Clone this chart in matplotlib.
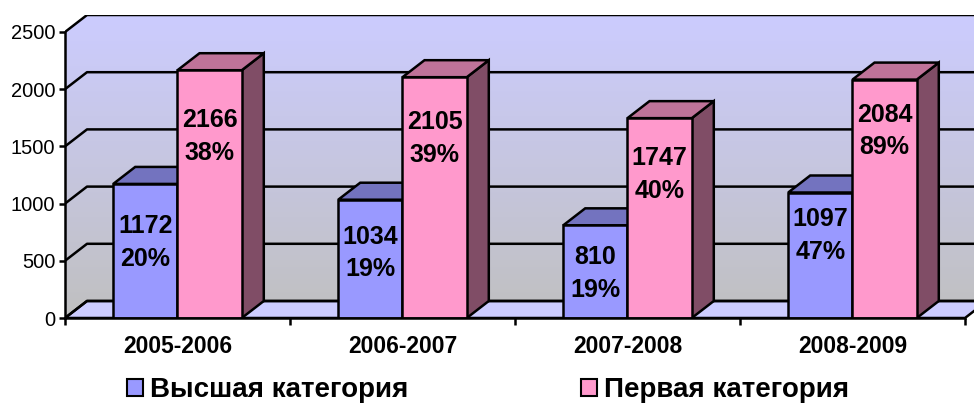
import numpy as np
import matplotlib.pyplot as plt
from matplotlib.colors import LinearSegmentedColormap
from matplotlib.patches import Patch, Polygon

plt.rcParams['font.family'] = ['Liberation Sans', 'DejaVu Sans']

# data
years = ['2005-2006', '2006-2007', '2007-2008', '2008-2009']
series_names = ['Высшая категория', 'Первая категория']
high_vals = [1172, 1034, 810, 1097]
high_pct = [20, 19, 19, 47]
first_vals = [2166, 2105, 1747, 2084]
first_pct = [38, 39, 40, 89]

# styles: front, top, side
blue = ('#9999ff', '#7373bf', '#4d4d80')
pink = ('#ff99cc', '#bf7399', '#804d66')
LW = 1.8

# depth of the pseudo-3d box, in data units
DX = 0.0978
DY = 148.6
YMAX = 2500
n = len(years)

fig = plt.figure(figsize=(9.74, 4.03), dpi=100)
ax = fig.add_axes([65/974, 85/403, 922/974, 303/403])
ax.set_facecolor('none')

# walls with gradient (gray at bottom, lavender at top)
wall = Polygon([(0, 0), (0, YMAX), (DX, YMAX + DY), (n + DX, YMAX + DY),
                (n + DX, DY), (DX, DY)], closed=True, facecolor='none',
               edgecolor='none', transform=ax.transData)
ax.add_patch(wall)
cmap = LinearSegmentedColormap.from_list('wall', ['#c0c0c0', '#ccccff'])
grad = np.linspace(0, 1, 256).reshape(-1, 1)
im = ax.imshow(grad, extent=(0, n + DX, 0, YMAX + DY), origin='lower',
               aspect='auto', cmap=cmap, zorder=0)
im.set_clip_path(wall)

# floor
ax.fill([0, n, n + DX, DX], [0, 0, DY, DY], facecolor='#ccccff',
        edgecolor='black', linewidth=LW, zorder=1)

# gridlines on left and back walls
for v in range(0, YMAX + 1, 500):
    ax.plot([0, DX, n + DX], [v, v + DY, v + DY], color='black', lw=LW,
            zorder=1, solid_capstyle='butt')

# bars
w = 1 / 3.5
x_high = np.arange(n) + 0.75 * w
x_first = x_high + w


def draw_bars(xs, vals, cols, pcts, off):
    for i, (x, v, p) in enumerate(zip(xs, vals, pcts)):
        x1 = x + w
        ax.fill([x1, x1 + DX, x1 + DX, x1], [0, DY, v + DY, v],
                facecolor=cols[2], edgecolor='black', lw=LW, zorder=2.9)
        ax.fill([x, x1, x1 + DX, x + DX], [v, v, v + DY, v + DY],
                facecolor=cols[1], edgecolor='black', lw=LW, zorder=2.9)
        # labels sit a little higher on the bars further right
        ax.text(x + w / 2, v - off + 44 * i, f'{v}\n{p}%', ha='center',
                va='center', fontsize=18, fontweight='bold', linespacing=1.45,
                zorder=10)
    ax.bar(xs, vals, width=w, align='edge', color=cols[0], edgecolor='black',
           linewidth=LW, zorder=3)


draw_bars(x_high, high_vals, blue, high_pct, 510)
draw_bars(x_first, first_vals, pink, first_pct, 580)

ax.set_xlim(0, n + DX)
ax.set_ylim(0, YMAX + DY)

for s in ['top', 'right']:
    ax.spines[s].set_visible(False)
ax.spines['left'].set_bounds(0, YMAX)
ax.spines['bottom'].set_bounds(0, n)
for s in ['left', 'bottom']:
    ax.spines[s].set_linewidth(LW)
    ax.spines[s].set_zorder(5)

ax.set_yticks(range(0, YMAX + 1, 500))
ax.tick_params(axis='y', direction='out', length=4, width=LW, labelsize=14.5,
               pad=3)
ax.set_xticks(np.arange(n + 1))
ax.set_xticklabels([])
ax.set_xticks(np.arange(n) + 0.5, minor=True)
ax.set_xticklabels(years, minor=True, fontsize=16.5, fontweight='bold')
ax.tick_params(axis='x', which='major', direction='out', length=5, width=LW)
ax.tick_params(axis='x', which='minor', length=0, pad=12)

handles = [Patch(facecolor=blue[0], edgecolor='black', lw=1.5),
           Patch(facecolor=pink[0], edgecolor='black', lw=1.5)]
fig.legend(handles, series_names, ncol=2, loc='center',
           bbox_to_anchor=(488/974, 1 - 390/403), frameon=False,
           prop={'size': 20, 'weight': 'bold'}, handlelength=0.58,
           handleheight=0.58, handletextpad=0.25, columnspacing=6.2,
           borderpad=0)

fig.savefig('out.png', dpi=100)
